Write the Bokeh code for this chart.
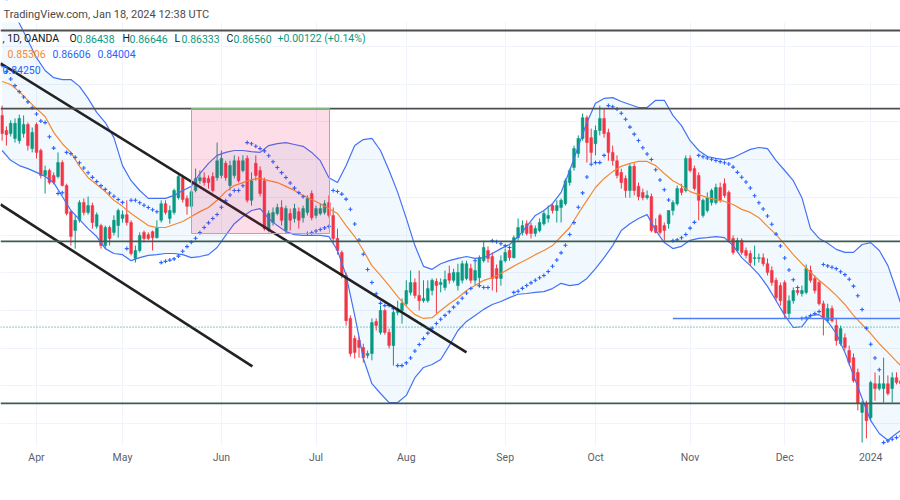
import numpy as np
import pandas as pd
from bokeh.plotting import figure
from bokeh.models import Range1d, FixedTicker, Grid, Span, BoxAnnotation, Label, ColumnDataSource
from bokeh.embed import file_html
from bokeh.resources import INLINE

# ---------------- data (USD/CHF daily, OANDA) ----------------
HOLIDAYS = ["2023-12-25", "2024-01-01"]
dates = [d for d in pd.bdate_range("2023-03-22", "2024-01-11")
         if d.strftime("%Y-%m-%d") not in HOLIDAYS]

opens = [
    0.9217, 0.9177, 0.9169, 0.9156, 0.9150, 0.9169, 0.9193, 0.9129,
    0.9193, 0.9124, 0.9058, 0.9071, 0.9058, 0.9055, 0.9092, 0.9031, 0.8962, 0.8912,
    0.8939, 0.8986, 0.8960, 0.8978, 0.8923, 0.8925, 0.8872, 0.8920, 0.8907, 0.8925,
    0.8944, 0.8954, 0.8933, 0.8838, 0.8859, 0.8907, 0.8901, 0.8909, 0.8893, 0.8939,
    0.8983, 0.8944, 0.8960, 0.8999, 0.9052, 0.8997, 0.8976, 0.9018, 0.9044, 0.9052,
    0.9050, 0.9055, 0.9052, 0.9058, 0.9090, 0.9031, 0.9058, 0.9097, 0.9071, 0.9103,
    0.8992, 0.9090, 0.9071, 0.9044, 0.8912, 0.8933, 0.8957, 0.8973, 0.8912, 0.8957,
    0.8944, 0.8962, 0.8946, 0.8960, 0.9010, 0.8952, 0.8957, 0.8960, 0.8986, 0.8952,
    0.8891, 0.8854, 0.8793, 0.8679, 0.8626, 0.8621, 0.8602, 0.8581, 0.8586, 0.8671,
    0.8642, 0.8700, 0.8642, 0.8607, 0.8695, 0.8700, 0.8718, 0.8748, 0.8774, 0.8740,
    0.8726, 0.8726, 0.8753, 0.8777, 0.8769, 0.8761, 0.8798, 0.8780, 0.8766, 0.8780,
    0.8785, 0.8811, 0.8780, 0.8787, 0.8832, 0.8859, 0.8843, 0.8811, 0.8785, 0.8832,
    0.8859, 0.8840, 0.8893, 0.8907, 0.8930, 0.8925, 0.8904, 0.8912, 0.8930, 0.8944,
    0.8978, 0.8965, 0.8973, 0.8983, 0.9039, 0.9079, 0.9116, 0.9156, 0.9211, 0.9158,
    0.9142, 0.9177, 0.9209, 0.9172, 0.9119, 0.9097, 0.9066, 0.9050, 0.9018, 0.9082,
    0.9029, 0.9013, 0.8999, 0.9002, 0.8925, 0.8952, 0.8925, 0.8930, 0.8965, 0.8983,
    0.9023, 0.9018, 0.9103, 0.9076, 0.9058, 0.8952, 0.8965, 0.8986, 0.8986, 0.9026,
    0.9036, 0.9013, 0.8891, 0.8859, 0.8886, 0.8859, 0.8851, 0.8838, 0.8838, 0.8840,
    0.8824, 0.8806, 0.8780, 0.8766, 0.8774, 0.8692, 0.8726, 0.8753, 0.8745, 0.8748,
    0.8806, 0.8785, 0.8774, 0.8718, 0.8673, 0.8705, 0.8660, 0.8612, 0.8628, 0.8594,
    0.8575, 0.8536, 0.8430, 0.8454, 0.8416, 0.8506, 0.8493, 0.8493, 0.8506, 0.8493,
    0.8522, 0.8514]

highs = [
    0.9243, 0.9188, 0.9204, 0.9209, 0.9219, 0.9217, 0.9198, 0.9185,
    0.9198, 0.9129, 0.9084, 0.9076, 0.9066, 0.9119, 0.9098, 0.9036, 0.8965, 0.8952,
    0.8992, 0.8997, 0.9002, 0.8986, 0.8960, 0.8930, 0.8925, 0.8925, 0.8952, 0.8970,
    0.8965, 0.8992, 0.8939, 0.8872, 0.8907, 0.8912, 0.8907, 0.8912, 0.8939, 0.8992,
    0.8992, 0.8978, 0.9023, 0.9060, 0.9060, 0.9005, 0.9021, 0.9076, 0.9071, 0.9066,
    0.9058, 0.9066, 0.9145, 0.9124, 0.9097, 0.9097, 0.9111, 0.9108, 0.9111, 0.9111,
    0.9066, 0.9111, 0.9082, 0.9052, 0.8965, 0.8973, 0.8983, 0.8992, 0.8978, 0.8970,
    0.8983, 0.8973, 0.8978, 0.9005, 0.9018, 0.8978, 0.8983, 0.8992, 0.9005, 0.8973,
    0.8917, 0.8859, 0.8801, 0.8687, 0.8634, 0.8631, 0.8612, 0.8594, 0.8679, 0.8679,
    0.8713, 0.8705, 0.8652, 0.8700, 0.8726, 0.8732, 0.8780, 0.8806, 0.8785, 0.8806,
    0.8780, 0.8780, 0.8785, 0.8785, 0.8785, 0.8806, 0.8819, 0.8811, 0.8824, 0.8832,
    0.8832, 0.8824, 0.8827, 0.8846, 0.8885, 0.8870, 0.8854, 0.8822, 0.8846, 0.8864,
    0.8864, 0.8899, 0.8944, 0.8939, 0.8939, 0.8933, 0.8925, 0.8944, 0.8965, 0.8978,
    0.8983, 0.8992, 0.8997, 0.9050, 0.9076, 0.9137, 0.9164, 0.9222, 0.9217, 0.9182,
    0.9190, 0.9243, 0.9235, 0.9182, 0.9137, 0.9111, 0.9076, 0.9058, 0.9090, 0.9090,
    0.9039, 0.9023, 0.9018, 0.9010, 0.8944, 0.8957, 0.8933, 0.8965, 0.8992, 0.9031,
    0.9036, 0.9111, 0.9111, 0.9084, 0.9066, 0.8997, 0.9013, 0.9023, 0.9036, 0.9039,
    0.9050, 0.9018, 0.8899, 0.8893, 0.8891, 0.8867, 0.8859, 0.8872, 0.8851, 0.8851,
    0.8838, 0.8817, 0.8787, 0.8774, 0.8780, 0.8740, 0.8761, 0.8761, 0.8766, 0.8822,
    0.8819, 0.8793, 0.8780, 0.8726, 0.8718, 0.8713, 0.8679, 0.8660, 0.8639, 0.8607,
    0.8586, 0.8546, 0.8461, 0.8461, 0.8514, 0.8536, 0.8528, 0.8575, 0.8528, 0.8536,
    0.8536, 0.8528]

lows = [
    0.9150, 0.9137, 0.9161, 0.9145, 0.9142, 0.9158, 0.9124, 0.9119,
    0.9103, 0.9050, 0.9010, 0.9034, 0.9034, 0.9050, 0.9029, 0.8952, 0.8872, 0.8864,
    0.8933, 0.8952, 0.8954, 0.8917, 0.8917, 0.8864, 0.8864, 0.8872, 0.8899, 0.8893,
    0.8933, 0.8925, 0.8846, 0.8827, 0.8854, 0.8880, 0.8886, 0.8859, 0.8891, 0.8933,
    0.8954, 0.8930, 0.8954, 0.8994, 0.8986, 0.8954, 0.8970, 0.9013, 0.9036, 0.9031,
    0.9023, 0.9013, 0.9044, 0.9050, 0.9044, 0.9018, 0.9050, 0.9039, 0.9066, 0.8986,
    0.8978, 0.9044, 0.9002, 0.8912, 0.8907, 0.8925, 0.8952, 0.8925, 0.8904, 0.8912,
    0.8933, 0.8917, 0.8933, 0.8952, 0.8939, 0.8944, 0.8952, 0.8954, 0.8946, 0.8877,
    0.8848, 0.8785, 0.8660, 0.8578, 0.8573, 0.8575, 0.8562, 0.8573, 0.8568, 0.8647,
    0.8636, 0.8636, 0.8599, 0.8554, 0.8687, 0.8665, 0.8713, 0.8740, 0.8732, 0.8700,
    0.8721, 0.8721, 0.8740, 0.8692, 0.8748, 0.8753, 0.8771, 0.8774, 0.8753, 0.8772,
    0.8780, 0.8772, 0.8766, 0.8761, 0.8827, 0.8827, 0.8753, 0.8748, 0.8766, 0.8827,
    0.8832, 0.8838, 0.8885, 0.8899, 0.8899, 0.8891, 0.8896, 0.8907, 0.8925, 0.8933,
    0.8957, 0.8933, 0.8933, 0.8978, 0.9031, 0.9071, 0.9105, 0.9150, 0.9092, 0.9092,
    0.9111, 0.9164, 0.9158, 0.9097, 0.9084, 0.9050, 0.9023, 0.8999, 0.8999, 0.9005,
    0.8992, 0.8992, 0.8994, 0.8907, 0.8904, 0.8901, 0.8885, 0.8917, 0.8952, 0.8978,
    0.9005, 0.9013, 0.9066, 0.9018, 0.8939, 0.8946, 0.8960, 0.8978, 0.8981, 0.8986,
    0.8999, 0.8880, 0.8848, 0.8854, 0.8848, 0.8838, 0.8819, 0.8819, 0.8827, 0.8817,
    0.8793, 0.8766, 0.8726, 0.8713, 0.8679, 0.8681, 0.8718, 0.8740, 0.8737, 0.8743,
    0.8774, 0.8745, 0.8713, 0.8634, 0.8668, 0.8668, 0.8607, 0.8607, 0.8594, 0.8554,
    0.8509, 0.8435, 0.8350, 0.8361, 0.8408, 0.8461, 0.8488, 0.8456, 0.8475, 0.8456,
    0.8504, 0.8501]

closes = [
    0.9169, 0.9166, 0.9196, 0.9196, 0.9209, 0.9193, 0.9137, 0.9172,
    0.9119, 0.9058, 0.9071, 0.9039, 0.9039, 0.9092, 0.9031, 0.8957, 0.8896, 0.8939,
    0.8986, 0.8960, 0.8978, 0.8933, 0.8954, 0.8872, 0.8920, 0.8891, 0.8939, 0.8965,
    0.8954, 0.8933, 0.8851, 0.8859, 0.8899, 0.8891, 0.8891, 0.8893, 0.8920, 0.8983,
    0.8960, 0.8965, 0.9018, 0.9055, 0.8994, 0.8976, 0.9015, 0.9050, 0.9052, 0.9039,
    0.9039, 0.9018, 0.9097, 0.9103, 0.9052, 0.9084, 0.9097, 0.9044, 0.9097, 0.8992,
    0.9044, 0.9058, 0.9010, 0.8917, 0.8957, 0.8960, 0.8973, 0.8939, 0.8970, 0.8939,
    0.8970, 0.8939, 0.8970, 0.8997, 0.8946, 0.8970, 0.8970, 0.8983, 0.8952, 0.8891,
    0.8859, 0.8793, 0.8673, 0.8586, 0.8589, 0.8602, 0.8575, 0.8586, 0.8668, 0.8660,
    0.8700, 0.8642, 0.8607, 0.8695, 0.8705, 0.8719, 0.8753, 0.8774, 0.8740, 0.8726,
    0.8732, 0.8758, 0.8780, 0.8766, 0.8774, 0.8782, 0.8780, 0.8801, 0.8801, 0.8824,
    0.8824, 0.8780, 0.8806, 0.8840, 0.8867, 0.8838, 0.8785, 0.8785, 0.8832, 0.8854,
    0.8840, 0.8893, 0.8920, 0.8925, 0.8904, 0.8904, 0.8917, 0.8933, 0.8957, 0.8952,
    0.8965, 0.8978, 0.8992, 0.9044, 0.9071, 0.9129, 0.9156, 0.9211, 0.9145, 0.9119,
    0.9177, 0.9209, 0.9169, 0.9119, 0.9097, 0.9058, 0.9039, 0.9018, 0.9082, 0.9018,
    0.9002, 0.8999, 0.9005, 0.8912, 0.8907, 0.8907, 0.8912, 0.8965, 0.8986, 0.9023,
    0.9013, 0.9103, 0.9071, 0.9023, 0.8992, 0.8992, 0.8999, 0.9018, 0.9026, 0.8992,
    0.9005, 0.8886, 0.8854, 0.8886, 0.8854, 0.8846, 0.8827, 0.8840, 0.8840, 0.8824,
    0.8801, 0.8774, 0.8734, 0.8726, 0.8692, 0.8726, 0.8753, 0.8748, 0.8753, 0.8811,
    0.8780, 0.8753, 0.8718, 0.8679, 0.8705, 0.8673, 0.8620, 0.8652, 0.8602, 0.8562,
    0.8514, 0.8454, 0.8454, 0.8408, 0.8509, 0.8493, 0.8506, 0.8506, 0.8480, 0.8522,
    0.8509, 0.8506]

# Bollinger Bands (20, 2) read every second bar
bb_pos = list(range(0, 209, 2)) + [209]
bb_upper = [
    0.9543, 0.9503, 0.9461, 0.9416, 0.9370, 0.9336, 0.9317, 0.9312, 0.9312, 0.9294,
    0.9262, 0.9225, 0.9198, 0.9158, 0.9084, 0.9044, 0.9018, 0.8997, 0.8997, 0.8997,
    0.9005, 0.9018, 0.9029, 0.9063, 0.9090, 0.9111, 0.9119, 0.9124, 0.9124, 0.9121,
    0.9119, 0.9137, 0.9142, 0.9145, 0.9140, 0.9135, 0.9119, 0.9097, 0.9052, 0.9039,
    0.9084, 0.9137, 0.9153, 0.9156, 0.9124, 0.9071, 0.9013, 0.8944, 0.8872, 0.8817,
    0.8809, 0.8824, 0.8832, 0.8838, 0.8843, 0.8838, 0.8840, 0.8851, 0.8864, 0.8875,
    0.8896, 0.8923, 0.8952, 0.8965, 0.8983, 0.9013, 0.9071, 0.9135, 0.9198, 0.9249,
    0.9262, 0.9264, 0.9254, 0.9246, 0.9238, 0.9238, 0.9257, 0.9257, 0.9217, 0.9190,
    0.9150, 0.9124, 0.9108, 0.9103, 0.9100, 0.9105, 0.9116, 0.9127, 0.9132, 0.9129,
    0.9097, 0.9071, 0.9044, 0.8999, 0.8917, 0.8891, 0.8878, 0.8862, 0.8854, 0.8854,
    0.8875, 0.8880, 0.8859, 0.8819, 0.8753, 0.8718]
bb_basis = [
    0.9307, 0.9299, 0.9280, 0.9257, 0.9235, 0.9214, 0.9172, 0.9142, 0.9119, 0.9082,
    0.9052, 0.9034, 0.9015, 0.8992, 0.8976, 0.8957, 0.8941, 0.8925, 0.8920, 0.8920,
    0.8928, 0.8936, 0.8949, 0.8962, 0.8973, 0.8992, 0.9015, 0.9031, 0.9039, 0.9047,
    0.9050, 0.9044, 0.9039, 0.9029, 0.9018, 0.9005, 0.8994, 0.8983, 0.8970, 0.8957,
    0.8925, 0.8896, 0.8859, 0.8819, 0.8793, 0.8766, 0.8737, 0.8711, 0.8689, 0.8679,
    0.8681, 0.8700, 0.8718, 0.8734, 0.8753, 0.8766, 0.8780, 0.8787, 0.8798, 0.8811,
    0.8824, 0.8835, 0.8848, 0.8859, 0.8872, 0.8896, 0.8920, 0.8957, 0.8992, 0.9026,
    0.9050, 0.9068, 0.9082, 0.9090, 0.9095, 0.9095, 0.9084, 0.9063, 0.9044, 0.9031,
    0.9015, 0.9007, 0.8999, 0.8994, 0.8989, 0.8981, 0.8968, 0.8960, 0.8946, 0.8923,
    0.8901, 0.8875, 0.8848, 0.8824, 0.8801, 0.8780, 0.8761, 0.8740, 0.8716, 0.8687,
    0.8663, 0.8639, 0.8612, 0.8589, 0.8565, 0.8554]
bb_lower = [
    0.9124, 0.9098, 0.9084, 0.9076, 0.9066, 0.9055, 0.9039, 0.9002, 0.8965, 0.8941,
    0.8917, 0.8896, 0.8864, 0.8851, 0.8848, 0.8832, 0.8840, 0.8846, 0.8848, 0.8851,
    0.8851, 0.8848, 0.8840, 0.8843, 0.8848, 0.8867, 0.8899, 0.8930, 0.8949, 0.8965,
    0.8970, 0.8944, 0.8925, 0.8909, 0.8901, 0.8899, 0.8899, 0.8899, 0.8896, 0.8859,
    0.8793, 0.8687, 0.8573, 0.8506, 0.8480, 0.8456, 0.8456, 0.8475, 0.8522, 0.8549,
    0.8557, 0.8570, 0.8607, 0.8647, 0.8671, 0.8687, 0.8703, 0.8716, 0.8724, 0.8734,
    0.8743, 0.8745, 0.8748, 0.8750, 0.8758, 0.8772, 0.8766, 0.8769, 0.8785, 0.8811,
    0.8840, 0.8872, 0.8912, 0.8930, 0.8944, 0.8954, 0.8912, 0.8880, 0.8864, 0.8870,
    0.8886, 0.8891, 0.8893, 0.8896, 0.8893, 0.8872, 0.8840, 0.8819, 0.8795, 0.8764,
    0.8726, 0.8687, 0.8655, 0.8657, 0.8687, 0.8689, 0.8671, 0.8639, 0.8589, 0.8528,
    0.8467, 0.8408, 0.8374, 0.8356, 0.8374, 0.8382]

# Parabolic SAR starting state (first visible bar)
sar_start, sar_af_start = 0.9349, 0.08

# drawings
dark_levels = [0.9442, 0.9235]
green_levels = [0.8883, 0.8454]
ray_level, ray_start = 0.8679, 156
last_price = 0.8656
channel_x0 = [-0.37, -0.37]
channel_y0 = [0.9355, 0.8981]
channel_x1 = [108.0, 58.2]
channel_y1 = [0.8589, 0.8552]
zone = dict(left=44.05, right=76.14, bottom=0.8904, top=0.9235)

# legend values
ohlc_legend = [("O", "0.86438"), ("H", "0.86646"), ("L", "0.86333"), ("C", "0.86560")]
change_legend = "+0.00122 (+0.14%)"
bb_legend = ["0.85306", "0.86606", "0.84004"]
sar_legend = "0.84250"

assert len(dates) == len(opens) == len(highs) == len(lows) == len(closes)
assert len(bb_pos) == len(bb_upper) == len(bb_basis) == len(bb_lower)


def parabolic_sar(h, l, sar0, af0, step=0.02, amax=0.2):
    up = False
    sar, ep, af = sar0, l[0], af0
    out = [sar]
    for k in range(1, len(h)):
        nsar = sar + af * (ep - sar)
        if up:
            nsar = min(nsar, l[k - 1], l[max(k - 2, 0)])
            if l[k] < nsar:
                up, nsar, ep, af = False, ep, l[k], step
            elif h[k] > ep:
                ep, af = h[k], min(af + step, amax)
        else:
            nsar = max(nsar, h[k - 1], h[max(k - 2, 0)])
            if h[k] > nsar:
                up, nsar, ep, af = True, ep, h[k], step
            elif l[k] < ep:
                ep, af = l[k], min(af + step, amax)
        sar = nsar
        out.append(sar)
    return out


# ---------------- layout helpers (reference pixel -> data) ----------------
def rx(px):
    return (px - 36) / 4.3 + 8


def ry(py):
    return 0.95215 - 0.000265 * py


UP, DOWN = "#089981", "#f23645"
BLUE, ORANGE = "#4472f6", "#f7882f"
FONT = "Roboto"

pos = np.arange(len(dates))
o, h, l, c = map(np.array, (opens, highs, lows, closes))
src = ColumnDataSource(dict(
    x=pos, h=h, l=l,
    top=np.maximum(o, c), bottom=np.minimum(o, c),
    color=[UP if cc >= oo else DOWN for oo, cc in zip(o, c)],
))

month_pos = [k for k in range(1, len(dates)) if dates[k].month != dates[k - 1].month]
month_lab = {int(k): (str(dates[k].year) if dates[k].month == 1 else dates[k].strftime("%b"))
             for k in month_pos}

p = figure(width=900, height=500, output_backend="svg", toolbar_location=None,
           x_range=Range1d(rx(0), rx(900)), y_range=Range1d(ry(445), ry(0)),
           y_axis_location=None, title=None,
           min_border_left=0, min_border_right=0, min_border_top=0, min_border_bottom=55,
           background_fill_color="white", border_fill_color="white", outline_line_color=None)

p.xaxis.ticker = FixedTicker(ticks=month_pos)
p.xaxis.major_label_overrides = month_lab
p.xaxis.major_label_text_font = FONT
p.xaxis.major_label_text_font_size = "10.5px"
p.xaxis.major_label_text_color = "#5d606b"
p.xaxis.axis_line_color = None
p.xaxis.major_tick_line_color = None
p.xaxis.minor_tick_line_color = None
p.xaxis.major_tick_out = 0
p.xaxis.major_tick_in = 0
p.xaxis.major_label_standoff = 5
p.xgrid.ticker = FixedTicker(ticks=month_pos)
p.xgrid.grid_line_color = "#f0f3fa"
for g in p.ygrid:
    g.visible = False
p.add_layout(Grid(dimension=1, ticker=FixedTicker(ticks=[round(0.83 + 0.01 * k, 2) for k in range(13)]),
                  grid_line_color="#f0f3fa"))

# Bollinger background
p.varea(x=bb_pos, y1=bb_lower, y2=bb_upper, fill_color="#2196f3", fill_alpha=0.06)

# candles
p.segment(x0="x", y0="l", x1="x", y1="h", line_color="color", line_width=1, source=src)
p.vbar(x="x", width=0.64, top="top", bottom="bottom", fill_color="color",
       line_color="color", line_width=0.5, source=src)

# indicators
p.line(bb_pos, bb_upper, line_color=BLUE, line_width=1.2)
p.line(bb_pos, bb_lower, line_color=BLUE, line_width=1.2)
p.line(bb_pos, bb_basis, line_color=ORANGE, line_width=1.2)
sar = parabolic_sar(highs, lows, sar_start, sar_af_start)
p.scatter(pos, sar, marker="cross", size=4, line_color="#2962ff", line_width=1.1)

# drawings
p.segment(x0=channel_x0, y0=channel_y0, x1=channel_x1, y1=channel_y1,
          line_color="#222222", line_width=2.6)
p.segment(x0=[ray_start], y0=[ray_level], x1=[len(dates) + 5], y1=[ray_level],
          line_color="#4d7ef7", line_width=1.5)
for lv in dark_levels:
    p.add_layout(Span(location=lv, dimension="width", line_color="#4e4e4e", line_width=1.8))
for lv in green_levels:
    p.add_layout(Span(location=lv, dimension="width", line_color="#3b5d52", line_width=1.8))
p.add_layout(Span(location=last_price, dimension="width", line_color=UP,
                  line_width=1, line_dash="1 2"))
p.add_layout(BoxAnnotation(fill_color="#e91e63", fill_alpha=0.15, line_color="#81c784",
                           line_alpha=1, line_width=1, line_dash="solid", **zone))

# header strip
p.add_layout(BoxAnnotation(left=rx(0), right=rx(900), bottom=ry(22), top=ry(0),
                           fill_color="white", fill_alpha=1, line_alpha=0))


def lab(text, x, y, color, size="10.5px", align="left"):
    p.add_layout(Label(x=rx(x), y=ry(y), text=text, text_font=FONT, text_font_size=size,
                       text_color=color, text_baseline="middle", text_align=align))


lab("TradingView.com, Jan 18, 2024 12:38 UTC", 3, 14, "#4a4a4a", size="11px")
lab(", 1D, OANDA", 2, 38, "#131722")
xs = [69, 122, 174, 226]
for (k, v), xx in zip(ohlc_legend, xs):
    lab(k, xx, 38, "#131722")
    lab(v, xx + 7, 38, UP)
lab(change_legend, 277, 38, UP)
lab(bb_legend[0], 7, 53, ORANGE)
lab(bb_legend[1], 52, 53, "#2962ff")
lab(bb_legend[2], 97, 53, "#2962ff")
lab(sar_legend, 2, 69, "#2962ff")

open("out.html", "w").write(file_html(p, INLINE))
